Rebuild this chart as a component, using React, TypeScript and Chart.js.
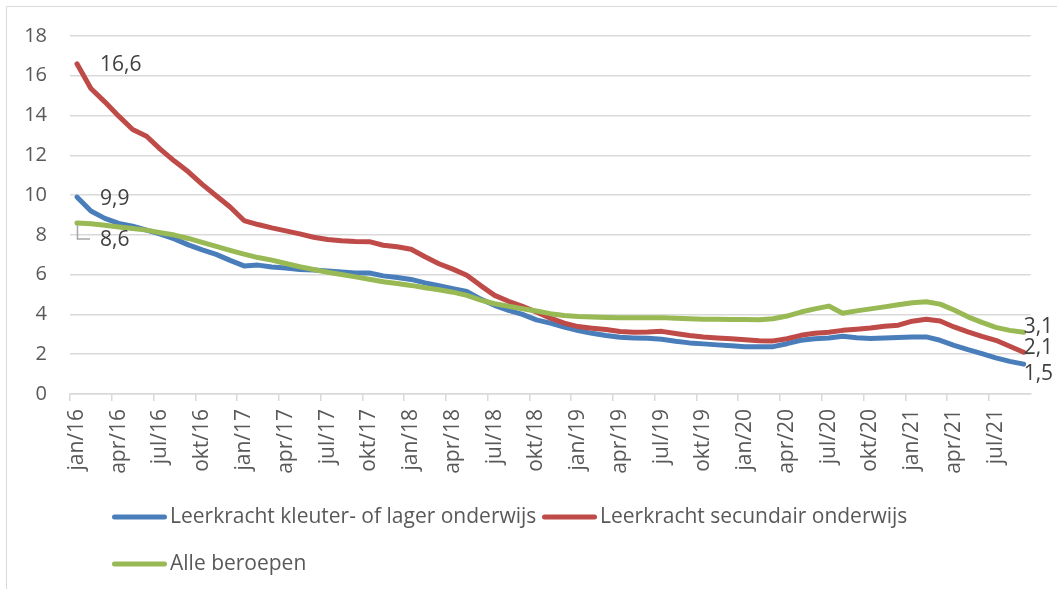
import React, { useEffect, useRef } from 'react';
import { Chart, registerables } from 'chart.js';

Chart.register(...registerables);

// ---- data ----
const MONTHS = ['jan', 'feb', 'mrt', 'apr', 'mei', 'jun', 'jul', 'aug', 'sep', 'okt', 'nov', 'dec'];
const YEARS = ['16', '17', '18', '19', '20', '21'];
const MONTH_COUNT = 69; // jan/16 .. sep/21
const CATEGORIES: string[] = [];
for (let i = 0; i < MONTH_COUNT; i++) {
  CATEGORIES.push(`${MONTHS[i % 12]}/${YEARS[Math.floor(i / 12)]}`);
}
const LABEL_EVERY = 3;

const SERIES_NAMES = [
  'Leerkracht kleuter- of lager onderwijs',
  'Leerkracht secundair onderwijs',
  'Alle beroepen',
];

const KLEUTER_LAGER = [
  9.9, 9.2, 8.83, 8.58, 8.44, 8.24, 8.04, 7.8, 7.5, 7.25, 7.02, 6.72,
  6.44, 6.48, 6.39, 6.34, 6.26, 6.23, 6.19, 6.14, 6.09, 6.08, 5.94, 5.86,
  5.76, 5.59, 5.44, 5.3, 5.16, 4.77, 4.46, 4.2, 4.0, 3.73, 3.56, 3.36,
  3.19, 3.05, 2.94, 2.85, 2.82, 2.8, 2.75, 2.65, 2.57, 2.52, 2.47, 2.43,
  2.38, 2.37, 2.38, 2.53, 2.7, 2.78, 2.82, 2.9, 2.83, 2.79, 2.81, 2.84,
  2.87, 2.87, 2.7, 2.45, 2.23, 2.03, 1.82, 1.64, 1.5,
];

const SECUNDAIR = [
  16.6, 15.36, 14.69, 13.97, 13.3, 12.96, 12.3, 11.71, 11.17, 10.54, 9.97, 9.4,
  8.72, 8.52, 8.35, 8.2, 8.05, 7.88, 7.77, 7.7, 7.67, 7.66, 7.48, 7.4,
  7.28, 6.9, 6.55, 6.28, 5.97, 5.45, 4.96, 4.66, 4.41, 4.12, 3.81, 3.56,
  3.39, 3.31, 3.24, 3.14, 3.11, 3.12, 3.15, 3.04, 2.94, 2.87, 2.82, 2.78,
  2.73, 2.68, 2.67, 2.78, 2.95, 3.05, 3.1, 3.2, 3.26, 3.32, 3.41, 3.46,
  3.66, 3.76, 3.67, 3.37, 3.12, 2.9, 2.7, 2.4, 2.1,
];

const ALLE_BEROEPEN = [
  8.6, 8.56, 8.48, 8.4, 8.32, 8.24, 8.11, 7.99, 7.82, 7.62, 7.42, 7.22,
  7.03, 6.86, 6.73, 6.56, 6.4, 6.26, 6.12, 6.01, 5.89, 5.77, 5.64, 5.56,
  5.46, 5.34, 5.24, 5.12, 4.96, 4.72, 4.54, 4.41, 4.29, 4.17, 4.04, 3.95,
  3.9, 3.87, 3.85, 3.84, 3.84, 3.84, 3.84, 3.81, 3.78, 3.76, 3.76, 3.75,
  3.75, 3.73, 3.78, 3.92, 4.12, 4.28, 4.42, 4.06, 4.18, 4.28, 4.38, 4.49,
  4.59, 4.64, 4.52, 4.22, 3.88, 3.6, 3.35, 3.2, 3.1,
];

const Y_MIN = 0;
const Y_MAX = 18;
const Y_STEP = 2;

// ---- styles ----
const FONT = "'Open Sans', 'Noto Sans', sans-serif";
const Y_FONT_SIZE = 20;
const FONT_SIZE = 21;
const COLORS = ['#4A7EBB', '#BE4B48', '#98B954'];
const TEXT_COLOR = '#595959';
const LABEL_COLOR = '#404040';
const GRID_COLOR = '#d9d9d9';

// data label placement (offsets relative to the point)
const LABEL_SPECS = [
  { dataset: 1, at: 'start', dx: 23, dy: 1, leader: false },
  { dataset: 0, at: 'start', dx: 23, dy: 2, leader: false },
  { dataset: 2, at: 'start', dx: 23, dy: 17, leader: true },
  { dataset: 2, at: 'end', dx: 0, dy: -5, leader: false },
  { dataset: 1, at: 'end', dx: 0, dy: -4, leader: false },
  { dataset: 0, at: 'end', dx: 0, dy: 10, leader: false },
];

const LEGEND_ITEMS = [
  { dataset: 0, x: 112, row: 0 },
  { dataset: 1, x: 542, row: 0 },
  { dataset: 2, x: 112, row: 1 },
];

const annotatePlugin = {
  id: 'annotate',
  beforeDraw(chart: any) {
    const ctx = chart.ctx;
    ctx.save();
    ctx.strokeStyle = GRID_COLOR;
    ctx.lineWidth = 1;
    ctx.beginPath();
    ctx.moveTo(6.5, chart.height);
    ctx.lineTo(6.5, 6.5);
    ctx.lineTo(chart.width, 6.5);
    ctx.stroke();
    ctx.restore();
  },
  afterDraw(chart: any) {
    const ctx = chart.ctx;
    ctx.save();
    ctx.font = `${FONT_SIZE}px ${FONT}`;
    ctx.textBaseline = 'middle';
    ctx.textAlign = 'left';
    // data labels
    LABEL_SPECS.forEach((spec) => {
      const meta = chart.getDatasetMeta(spec.dataset);
      const idx = spec.at === 'start' ? 0 : meta.data.length - 1;
      const pt = meta.data[idx];
      const v = chart.data.datasets[spec.dataset].data[idx] as number;
      const text = v.toFixed(1).replace('.', ',');
      if (spec.leader) {
        ctx.strokeStyle = '#A6A6A6';
        ctx.lineWidth = 1.5;
        ctx.beginPath();
        ctx.moveTo(pt.x + 0.5, pt.y + 2);
        ctx.lineTo(pt.x + 0.5, pt.y + spec.dy - 1);
        ctx.lineTo(pt.x + 13, pt.y + spec.dy - 1);
        ctx.stroke();
      }
      ctx.fillStyle = LABEL_COLOR;
      ctx.fillText(text, pt.x + spec.dx, pt.y + spec.dy);
    });
    // legend
    const area = chart.chartArea;
    LEGEND_ITEMS.forEach((item) => {
      const y = area.bottom + 123 + item.row * 47;
      const ds = chart.data.datasets[item.dataset];
      ctx.strokeStyle = ds.borderColor;
      ctx.lineWidth = 5;
      ctx.lineCap = 'round';
      ctx.beginPath();
      ctx.moveTo(item.x + 2.5, y);
      ctx.lineTo(item.x + 52.5, y);
      ctx.stroke();
      ctx.fillStyle = TEXT_COLOR;
      ctx.fillText(ds.label, item.x + 58, y);
    });
    ctx.restore();
  },
};

export default function App() {
  const canvasRef = useRef<HTMLCanvasElement | null>(null);

  useEffect(() => {
    if (!canvasRef.current) return;
    const series = [KLEUTER_LAGER, SECUNDAIR, ALLE_BEROEPEN];
    const chart = new Chart(canvasRef.current, {
      type: 'line',
      data: {
        labels: CATEGORIES,
        datasets: series.map((d, i) => ({
          label: SERIES_NAMES[i],
          data: d,
          borderColor: COLORS[i],
          backgroundColor: COLORS[i],
          borderWidth: 5,
          pointRadius: 0,
          pointHoverRadius: 0,
          tension: 0,
          fill: false,
          borderCapStyle: 'round',
          borderJoinStyle: 'round',
          order: 3 - i,
        })),
      },
      options: {
        responsive: false,
        animation: false,
        devicePixelRatio: 1,
        layout: { padding: { left: 0, right: 21, top: 36, bottom: 95 } },
        plugins: {
          legend: { display: false },
          tooltip: { enabled: false },
          title: { display: false },
        },
        scales: {
          x: {
            type: 'category',
            offset: true,
            grid: {
              offset: true,
              drawOnChartArea: false,
              drawTicks: true,
              tickLength: 7,
              lineWidth: 1.5,
              color: (ctx: any) => (ctx.index % LABEL_EVERY === 0 ? GRID_COLOR : 'rgba(0,0,0,0)'),
            },
            border: { display: true, color: GRID_COLOR, width: 1.5 },
            ticks: {
              autoSkip: false,
              minRotation: 90,
              maxRotation: 90,
              padding: 8,
              color: TEXT_COLOR,
              font: { family: FONT, size: FONT_SIZE },
              callback: (_v: any, idx: number) => (idx % LABEL_EVERY === 0 ? CATEGORIES[idx] : ''),
            },
            afterFit: (scale: any) => {
              scale.height = 100;
            },
          },
          y: {
            min: Y_MIN,
            max: Y_MAX,
            grid: { color: GRID_COLOR, lineWidth: 1.5, drawTicks: false },
            border: { display: false },
            ticks: {
              stepSize: Y_STEP,
              padding: 23,
              color: TEXT_COLOR,
              font: { family: FONT, size: Y_FONT_SIZE },
            },
            afterFit: (scale: any) => {
              scale.width = 70;
            },
          },
        },
      },
      plugins: [annotatePlugin],
    } as any);
    return () => chart.destroy();
  }, []);

  return (
    <div style={{ position: 'absolute', left: 0, top: 0, width: 1057, height: 589, background: '#fff' }}>
      <canvas ref={canvasRef} width={1057} height={589} />
    </div>
  );
}
